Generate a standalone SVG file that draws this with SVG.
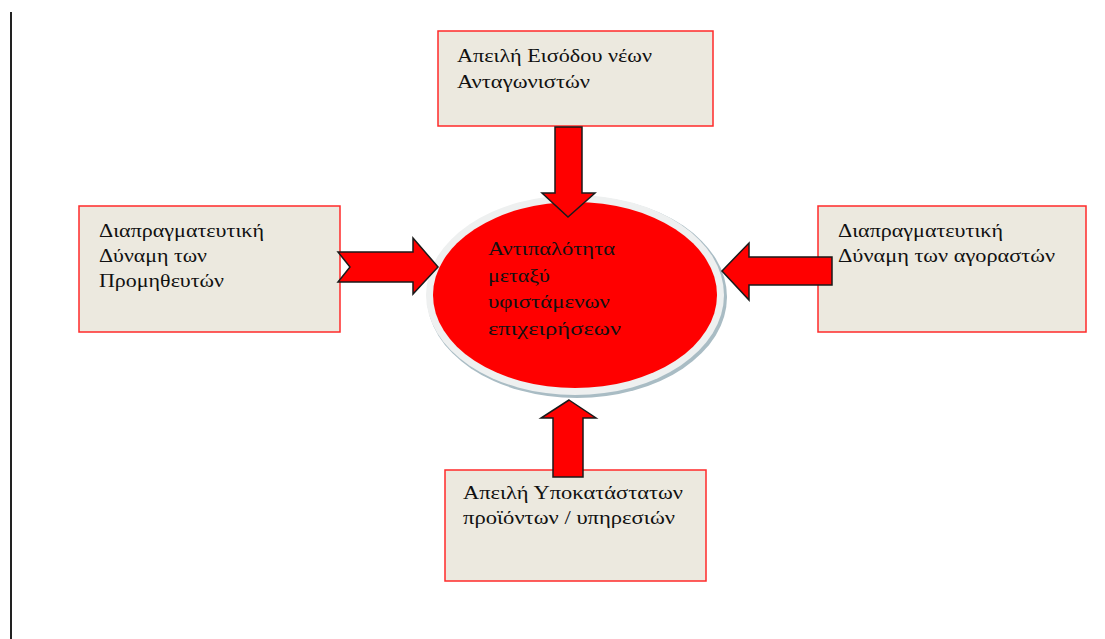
<svg xmlns="http://www.w3.org/2000/svg" width="1105" height="639" viewBox="0 0 1105 639">
<style>
.box{fill:#ece9df;stroke:#ff2a2a;stroke-width:1.5}
.t{font-family:"Liberation Serif","Times New Roman","DejaVu Serif",serif;font-size:18px;fill:#111}
.arr{fill:#ff0000;stroke:#1a1a1a;stroke-width:1.5;stroke-linejoin:miter}
</style>
<rect width="1105" height="639" fill="#fff"/>
<line x1="11" y1="12" x2="11" y2="639" stroke="#222" stroke-width="2"/>
<g id="center">
<ellipse cx="577" cy="297" rx="150" ry="101" fill="#a9bcc4"/>
<ellipse cx="575" cy="295" rx="149" ry="100" fill="#eef0f0"/>
<ellipse cx="575" cy="295" rx="142" ry="93" fill="#ff0000"/>
<text class="t" x="488" y="255" textLength="127" lengthAdjust="spacingAndGlyphs">Αντιπαλότητα</text>
<text class="t" x="488" y="282" textLength="62" lengthAdjust="spacingAndGlyphs">μεταξύ</text>
<text class="t" x="488" y="308" textLength="122" lengthAdjust="spacingAndGlyphs">υφιστάμενων</text>
<text class="t" x="488" y="335" textLength="133" lengthAdjust="spacingAndGlyphs">επιχειρήσεων</text>
</g>
<g id="top">
<rect class="box" x="438" y="31" width="275" height="95"/>
<text class="t" x="457" y="62" textLength="195" lengthAdjust="spacingAndGlyphs">Απειλή Εισόδου νέων</text>
<text class="t" x="457" y="88" textLength="133" lengthAdjust="spacingAndGlyphs">Ανταγωνιστών</text>
</g>
<g id="left">
<rect class="box" x="79" y="206" width="261" height="126"/>
<text class="t" x="99" y="237" textLength="165" lengthAdjust="spacingAndGlyphs">Διαπραγματευτική</text>
<text class="t" x="99" y="262" textLength="108" lengthAdjust="spacingAndGlyphs">Δύναμη των</text>
<text class="t" x="99" y="287" textLength="125" lengthAdjust="spacingAndGlyphs">Προμηθευτών</text>
</g>
<g id="right">
<rect class="box" x="818" y="206" width="268" height="126"/>
<text class="t" x="838" y="237" textLength="165" lengthAdjust="spacingAndGlyphs">Διαπραγματευτική</text>
<text class="t" x="838" y="262" textLength="217" lengthAdjust="spacingAndGlyphs">Δύναμη των αγοραστών</text>
</g>
<g id="bottom">
<rect class="box" x="445" y="470" width="261" height="111"/>
<text class="t" x="463" y="499" textLength="220" lengthAdjust="spacingAndGlyphs">Απειλή Υποκατάστατων</text>
<text class="t" x="463" y="524" textLength="212" lengthAdjust="spacingAndGlyphs">προϊόντων / υπηρεσιών</text>
</g>
<g id="connectors">
<path class="arr" d="M555,127 L582,127 L582,193 L595,193 L568,217 L542,193 L555,193 Z"/>
<path class="arr" d="M338,252 L413,252 L413,238 L438,267 L413,294 L413,282 L338,282 L350,267 Z"/>
<path class="arr" d="M832,257 L749,257 L749,243 L722,271 L749,300 L749,285 L832,285 Z"/>
<path class="arr" d="M569,400 L596,418 L583,418 L583,477 L553,477 L553,418 L541,418 Z"/>
</g>
</svg>
